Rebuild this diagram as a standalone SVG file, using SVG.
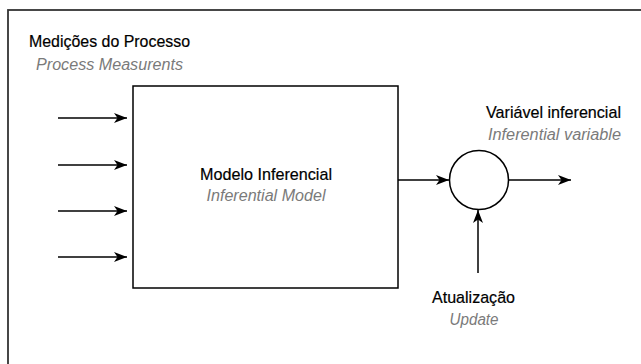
<svg xmlns="http://www.w3.org/2000/svg" width="641" height="364" viewBox="0 0 641 364">
<defs>
<marker id="ah" viewBox="0 0 13 10" refX="13" refY="5" markerWidth="13" markerHeight="10" markerUnits="userSpaceOnUse" orient="auto">
<path d="M0,0 L13,5 L0,10 L3.5,5 Z" fill="#000"/>
</marker>
</defs>
<style>
.t{font-family:"Liberation Sans",Arial,sans-serif;font-size:17px;fill:#000;stroke:#000;stroke-width:0.2}
.g{font-family:"Liberation Sans",Arial,sans-serif;font-size:16px;font-style:italic;fill:#7a7a7a}
.ln{stroke:#000;stroke-width:1.5;fill:none}
</style>
<rect x="8" y="10" width="640" height="360" fill="#fff" stroke="#333" stroke-width="1.8"/>
<g id="label-inputs">
<text class="t" x="29" y="47" textLength="161" lengthAdjust="spacingAndGlyphs">Medições do Processo</text>
<text class="g" x="36" y="70" textLength="147" lengthAdjust="spacingAndGlyphs">Process Measurents</text>
</g>
<g id="model">
<rect x="133" y="86" width="265" height="202" fill="#fff" stroke="#000" stroke-width="1.5"/>
<text class="t" x="266" y="180" text-anchor="middle" textLength="132" lengthAdjust="spacingAndGlyphs">Modelo Inferencial</text>
<text class="g" x="266" y="201" text-anchor="middle" textLength="119" lengthAdjust="spacingAndGlyphs">Inferential Model</text>
</g>
<g id="sum">
<circle cx="479" cy="180" r="29.5" fill="#fff" stroke="#000" stroke-width="1.5"/>
</g>
<g id="label-output">
<text class="t" x="621" y="118" text-anchor="end" textLength="135" lengthAdjust="spacingAndGlyphs">Variável inferencial</text>
<text class="g" x="621" y="140" text-anchor="end" textLength="133" lengthAdjust="spacingAndGlyphs">Inferential variable</text>
</g>
<g id="label-update">
<text class="t" x="473.5" y="303" text-anchor="middle" textLength="83" lengthAdjust="spacingAndGlyphs">Atualização</text>
<text class="g" x="474" y="325" text-anchor="middle" textLength="49" lengthAdjust="spacingAndGlyphs">Update</text>
</g>
<g id="connectors">
<line class="ln" x1="58" y1="118" x2="127" y2="118" marker-end="url(#ah)"/>
<line class="ln" x1="58" y1="165" x2="127" y2="165" marker-end="url(#ah)"/>
<line class="ln" x1="58" y1="211" x2="127" y2="211" marker-end="url(#ah)"/>
<line class="ln" x1="58" y1="257" x2="127" y2="257" marker-end="url(#ah)"/>
<line class="ln" x1="398" y1="180" x2="449" y2="180" marker-end="url(#ah)"/>
<line class="ln" x1="509" y1="180" x2="571" y2="180" marker-end="url(#ah)"/>
<line class="ln" x1="478" y1="273" x2="478" y2="210" marker-end="url(#ah)"/>
</g>
</svg>
